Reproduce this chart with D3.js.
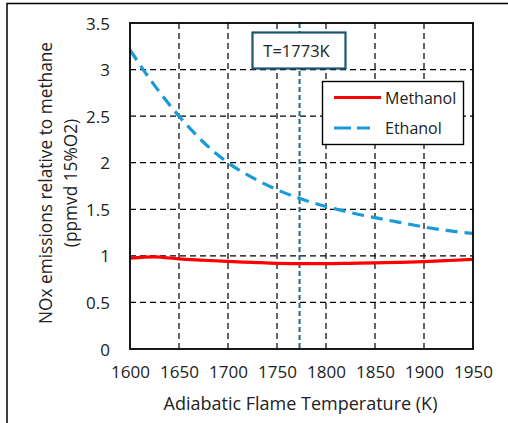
<!DOCTYPE html>
<html><head><meta charset="utf-8">
<script src="https://cdn.jsdelivr.net/npm/d3@7"></script>
<style>html,body{margin:0;padding:0;background:#fff;} svg{display:block;}</style>
</head><body>
<svg id="c" width="508" height="423"></svg>
<script>
const temps = [1600, 1625, 1650, 1675, 1700, 1725, 1750, 1775, 1800, 1825, 1850, 1875, 1900, 1925, 1950];
const methanol = [0.975, 0.99, 0.967, 0.953, 0.94, 0.93, 0.92, 0.916, 0.916, 0.92, 0.925, 0.93, 0.938, 0.95, 0.963];
const ethanol = [3.21, 2.83, 2.5, 2.22, 2.0, 1.84, 1.71, 1.61, 1.53, 1.465, 1.41, 1.36, 1.31, 1.27, 1.24];
const xTicks = [1600, 1650, 1700, 1750, 1800, 1850, 1900, 1950];
const yTicks = [0, 0.5, 1, 1.5, 2, 2.5, 3, 3.5];
const markerT = 1773;
const markerLabel = "T=1773K";
const seriesNames = ["Methanol", "Ethanol"];
const xTitle = "Adiabatic Flame Temperature (K)";
const yTitle = ["NOx emissions relative to methane", "(ppmvd 15%O2)"];

const font = "'Open Sans', sans-serif";
const ink = "#222";
const svg = d3.select("#c");
const L = 130, R = 473, T = 23, B = 349;
const x = d3.scaleLinear().domain([1600, 1950]).range([L, R]);
const y = d3.scaleLinear().domain([0, 3.5]).range([B, T]);

// outer frame
svg.append("rect").attr("x", 7).attr("y", 3.5).attr("width", 520).attr("height", 440)
  .attr("fill", "none").attr("stroke", "#000").attr("stroke-width", 1.5);

// grid
const g = svg.append("g");
g.selectAll(".hg").data(yTicks.filter(d => d > 0 && d < 3.5)).join("line")
  .attr("x1", L).attr("x2", R).attr("y1", d => y(d)).attr("y2", d => y(d))
  .attr("stroke", "#000").attr("stroke-width", 1.2).attr("stroke-dasharray", "6,4");
g.selectAll(".vg").data(xTicks.filter(d => d > 1600 && d < 1950)).join("line")
  .attr("y1", T).attr("y2", B).attr("x1", d => x(d)).attr("x2", d => x(d))
  .attr("stroke", "#000").attr("stroke-width", 1.2).attr("stroke-dasharray", "6,4");

// axes (labels only)
const xa = svg.append("g").attr("transform", `translate(0,${B})`)
  .call(d3.axisBottom(x).tickValues(xTicks).tickSize(0).tickPadding(17).tickFormat(d3.format("d")));
const ya = svg.append("g").attr("transform", `translate(${L},0)`)
  .call(d3.axisLeft(y).tickValues(yTicks).tickSize(0).tickPadding(20).tickFormat(d => d3.format("")(d)));
[xa, ya].forEach(a => {
  a.select(".domain").remove();
  a.selectAll("text").attr("font-family", font).attr("font-size", 17).attr("fill", ink);
});
ya.selectAll("text").attr("dy", "0.36em");

// marker line
svg.append("line").attr("x1", x(markerT)).attr("x2", x(markerT)).attr("y1", T).attr("y2", B)
  .attr("stroke", "#1f6688").attr("stroke-width", 2).attr("stroke-dasharray", "5,3");

// series
const line = d3.line().x((d, i) => x(temps[i])).y(d => y(d)).curve(d3.curveMonotoneX);
svg.append("path").datum(methanol).attr("d", line).attr("fill", "none")
  .attr("stroke", "#ff0000").attr("stroke-width", 3.2);
svg.append("path").datum(ethanol).attr("d", line).attr("fill", "none")
  .attr("stroke", "#1a9bd7").attr("stroke-width", 3.2).attr("stroke-dasharray", "12,7");

// plot frame
svg.append("rect").attr("x", L).attr("y", T).attr("width", R - L).attr("height", B - T)
  .attr("fill", "none").attr("stroke", "#000").attr("stroke-width", 1.8);

// marker label box
const bx = x(markerT);
svg.append("rect").attr("x", 252.5).attr("y", 32.5).attr("width", 93).attr("height", 36)
  .attr("fill", "#fff").attr("stroke", "#1b5570").attr("stroke-width", 2.2);
svg.append("text").attr("x", bx - 3).attr("y", 57).attr("text-anchor", "middle")
  .attr("font-family", font).attr("font-size", 16.5).attr("fill", ink).text(markerLabel);

// legend
svg.append("rect").attr("x", 322.5).attr("y", 81.5).attr("width", 141).attr("height", 63)
  .attr("fill", "#fff").attr("stroke", "#000").attr("stroke-width", 1.4);
const lg = [{c: "#ff0000", d: null, y: 97.5, x2: 381}, {c: "#1a9bd7", d: "17,6", y: 128, x2: 370}];
lg.forEach((s, i) => {
  svg.append("line").attr("x1", 334).attr("x2", s.x2).attr("y1", s.y).attr("y2", s.y)
    .attr("stroke", s.c).attr("stroke-width", 3.2).attr("stroke-dasharray", s.d);
  svg.append("text").attr("x", 385).attr("y", s.y + 6).attr("font-family", font)
    .attr("font-size", 16).attr("fill", ink).text(seriesNames[i]);
});

// titles
svg.append("text").attr("x", 300.5).attr("y", 410).attr("text-anchor", "middle")
  .attr("font-family", font).attr("font-size", 18).attr("fill", ink).text(xTitle);
yTitle.forEach((t, i) => {
  svg.append("text").attr("transform", `translate(${52 + i * 25},183) rotate(-90)`)
    .attr("text-anchor", "middle").attr("font-family", font).attr("font-size", 17.3)
    .attr("fill", ink).text(t);
});
</script>
</body></html>
